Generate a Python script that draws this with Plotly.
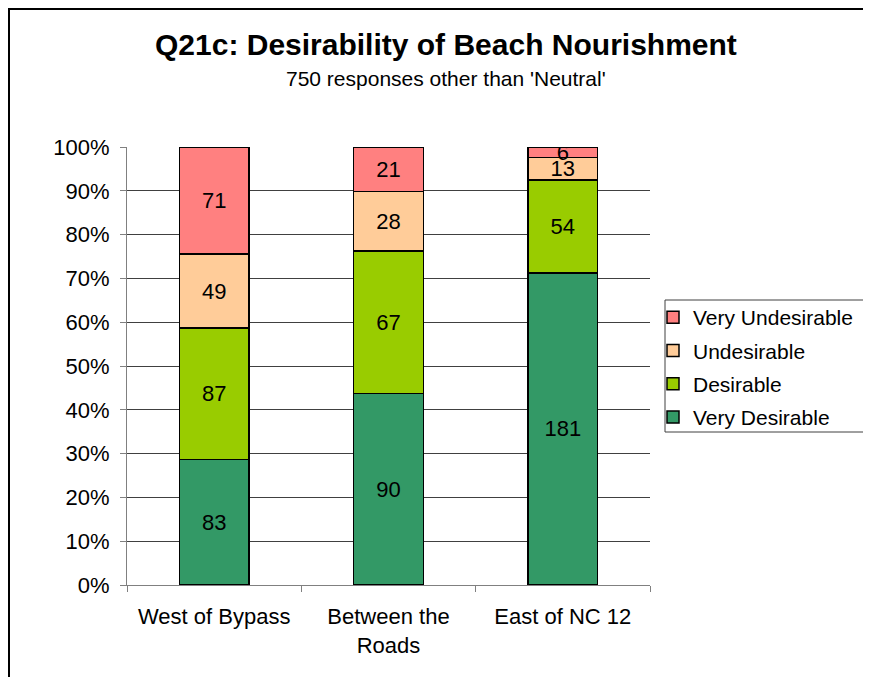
import plotly.graph_objects as go

categories = ["West of Bypass", "Between the<br>Roads", "East of NC 12"]
very_desirable = [83, 90, 181]
desirable = [87, 67, 54]
undesirable = [49, 28, 13]
very_undesirable = [71, 21, 6]

series = [
    ("Very Desirable", very_desirable, "#339966"),
    ("Desirable", desirable, "#99CC00"),
    ("Undesirable", undesirable, "#FFCC99"),
    ("Very Undesirable", very_undesirable, "#FF8080"),
]

FONT = "Arial, Liberation Sans, sans-serif"
OFF = 8  # page body margin
W, H = 871 - OFF, 677 - OFF
# target screen coords of plot area
L, R, T, B = 127 - OFF, 650 - OFF, 147 - OFF, 585 - OFF
pw, ph = R - L, B - T


def px(xs):
    return (xs - OFF - L) / pw


def py(ys):
    return (B - (ys - OFF)) / ph


fig = go.Figure()
for i, (name, vals, color) in enumerate(series):
    fig.add_trace(go.Bar(
        name=name, x=categories, y=vals, text=vals,
        textposition="inside", insidetextanchor="middle", textangle=0,
        textfont=dict(family=FONT, size=22, color="black"),
        marker=dict(color=color, line=dict(color="black", width=1.5)),
        constraintext="none", hoverinfo="skip", legendgroup=name,
        legendrank=1000 - i,
    ))

fig.update_layout(
    width=W, height=H,
    barmode="stack", barnorm="percent", bargap=0.6,
    margin=dict(l=L, r=W - R, t=T, b=H - B, autoexpand=False),
    paper_bgcolor="white", plot_bgcolor="white",
    font=dict(family=FONT, size=22, color="black"),
    uniformtext=dict(minsize=22, mode="show"),
    showlegend=True,
    legend=dict(
        traceorder="grouped", tracegroupgap=3,
        x=px(653), xanchor="left",
        y=py(297), yanchor="top",
        borderwidth=0,
        font=dict(family=FONT, size=21, color="black"),
        bgcolor="rgba(0,0,0,0)", itemwidth=30,
    ),
    xaxis=dict(
        showline=True, linecolor="#808080", linewidth=1,
        ticks="outside", tickson="boundaries", ticklen=6, tickcolor="#808080",
        tickfont=dict(family=FONT, size=22, color="black"),
        ticklabelstandoff=12,
        showgrid=False,
    ),
    yaxis=dict(
        range=[0, 100], dtick=10, ticksuffix="%",
        showline=True, linecolor="#808080", linewidth=1,
        ticks="outside", ticklen=6, tickcolor="#808080",
        tickfont=dict(family=FONT, size=22, color="black"),
        ticklabelstandoff=6,
        showgrid=True, gridcolor="#404040", gridwidth=1,
        zeroline=False,
    ),
    annotations=[
        dict(text="<b>Q21c: Desirability of Beach Nourishment</b>",
             xref="paper", yref="paper", x=px(446), y=py(45),
             xanchor="center", yanchor="middle", showarrow=False,
             font=dict(family=FONT, size=30, color="black")),
        dict(text="750 responses other than 'Neutral'",
             xref="paper", yref="paper", x=px(446), y=py(79),
             xanchor="center", yanchor="middle", showarrow=False,
             font=dict(family=FONT, size=21, color="black")),
    ],
    shapes=[
        dict(type="rect", xref="paper", yref="paper",
             x0=px(OFF + 1), x1=px(900), y0=py(700), y1=py(OFF + 1),
             line=dict(color="black", width=2), fillcolor="rgba(0,0,0,0)", layer="below"),
        dict(type="rect", xref="paper", yref="paper",
             x0=px(665), x1=px(900), y0=py(432), y1=py(300),
             line=dict(color="#404040", width=1), fillcolor="white", layer="below"),
    ],
)

fig.write_html("out.html")
